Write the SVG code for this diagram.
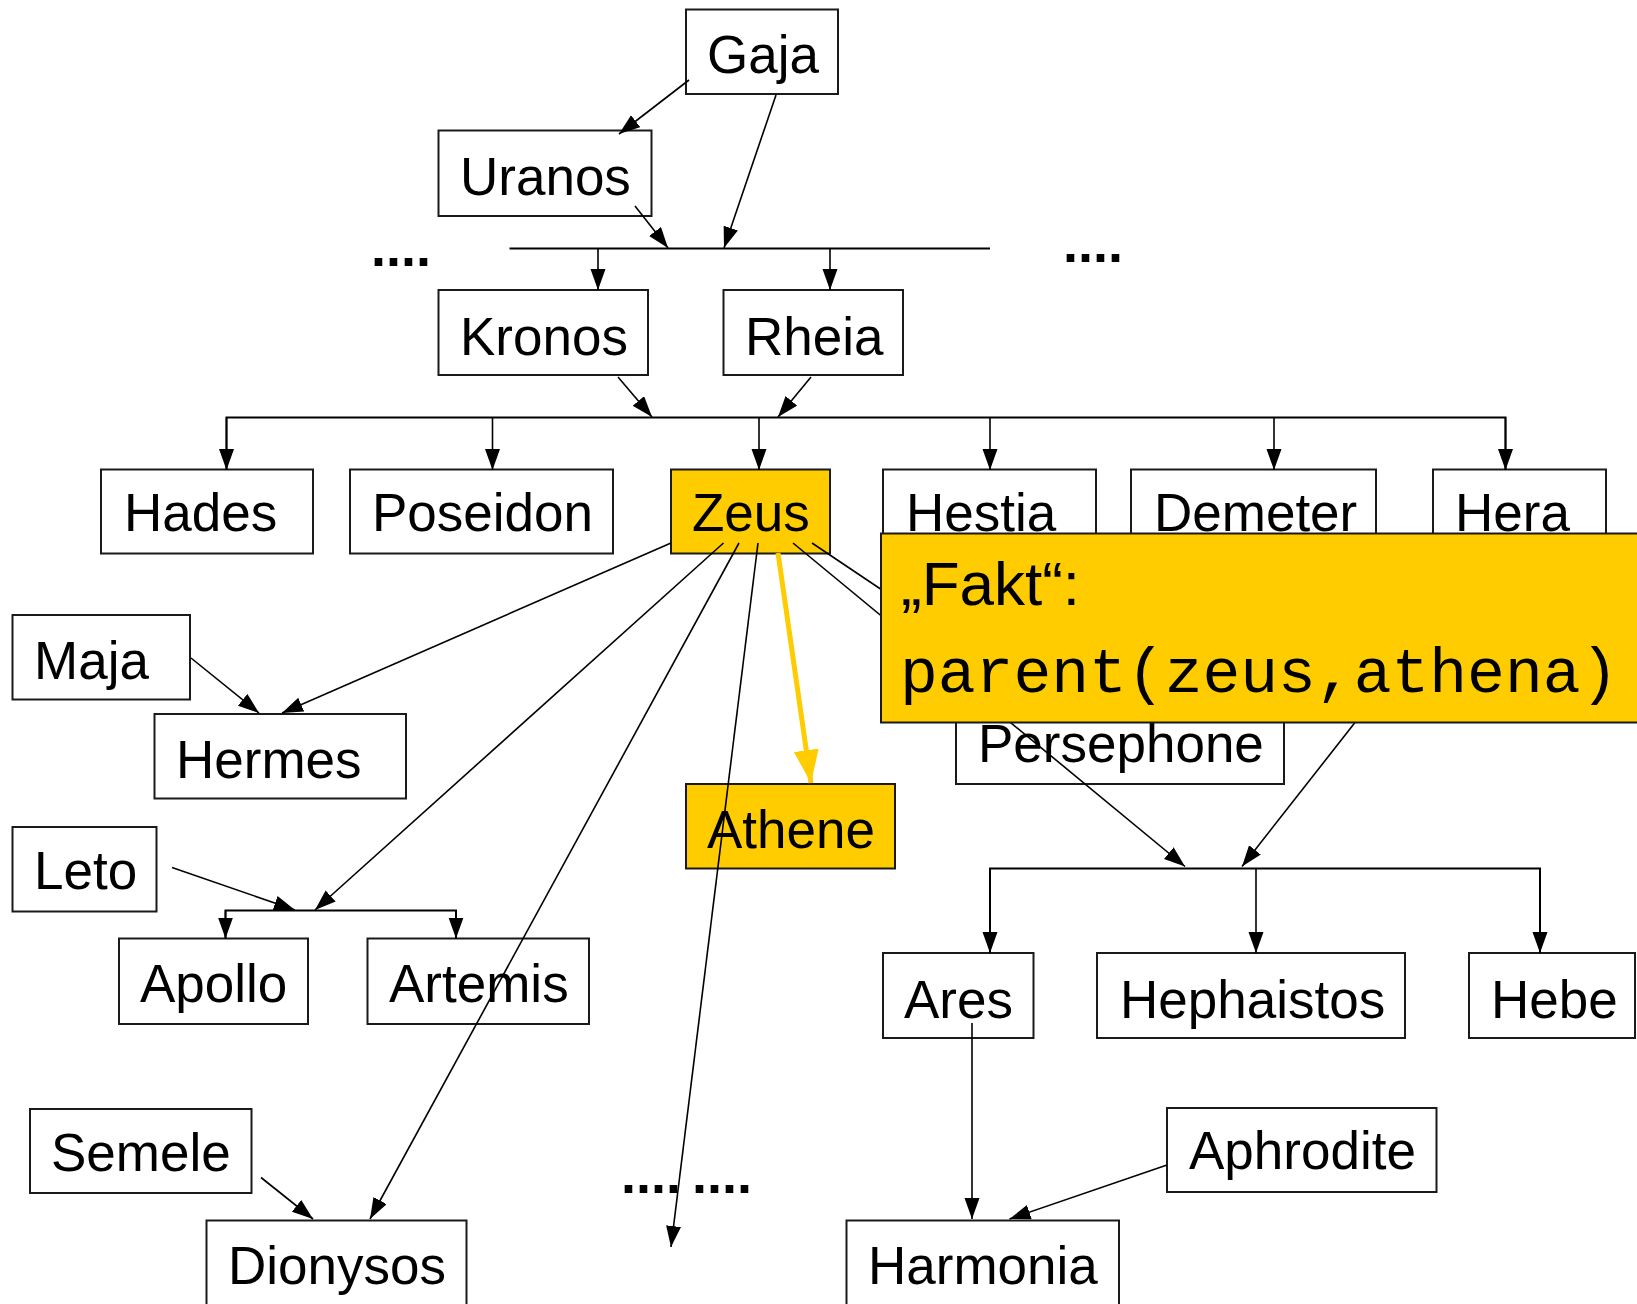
<svg xmlns="http://www.w3.org/2000/svg" width="1637" height="1304" viewBox="0 0 1637 1304">
  <defs>
    <style>
      .box { fill: #ffffff; stroke: #1a1a1a; stroke-width: 2; }
      .hl { fill: #ffcc00; stroke: #1a1a1a; stroke-width: 2; }
      .lbl { font-family: "Liberation Sans", Arial, sans-serif; font-size: 53px; fill: #000000; }
      .mono { font-family: "Liberation Mono", "Courier New", monospace; font-size: 63px; fill: #000000; }
      .edge { fill: none; stroke: #000000; stroke-width: 1.6; }
      .bar { fill: none; stroke: #000000; stroke-width: 2; }
      .fact { fill: none; stroke: #ffcc00; stroke-width: 5; }
      .dots { font-family: "Liberation Sans", Arial, sans-serif; font-size: 54px; font-weight: bold; fill: #000000; }
    </style>
    <marker id="arrow" markerUnits="userSpaceOnUse" markerWidth="22" markerHeight="16" refX="21" refY="7.5" orient="auto">
      <path d="M0,0 L21,7.5 L0,15 z" fill="#000000"/>
    </marker>
    <marker id="arrowY" markerUnits="userSpaceOnUse" markerWidth="34" markerHeight="26" refX="33" refY="12.5" orient="auto">
      <path d="M0,0 L33,12.5 L0,25 z" fill="#ffcc00"/>
    </marker>
  </defs>

  <!-- persons -->
  <g id="gaja"><rect class="box" x="686" y="9.5" width="152" height="84.5"/><text class="lbl" x="707" y="73">Gaja</text></g>
  <g id="uranos"><rect class="box" x="438.5" y="130.5" width="213" height="85.5"/><text class="lbl" x="460" y="195">Uranos</text></g>
  <g id="kronos"><rect class="box" x="438.5" y="290" width="209.5" height="85"/><text class="lbl" x="460" y="355">Kronos</text></g>
  <g id="rheia"><rect class="box" x="723.5" y="290" width="179.5" height="85"/><text class="lbl" x="745" y="355">Rheia</text></g>

  <g id="hades"><rect class="box" x="101" y="469.5" width="212" height="84"/><text class="lbl" x="124" y="531">Hades</text></g>
  <g id="poseidon"><rect class="box" x="350" y="469.5" width="263" height="84"/><text class="lbl" x="372" y="531">Poseidon</text></g>
  <g id="zeus"><rect class="hl" x="671" y="469.5" width="159" height="84"/><text class="lbl" x="692" y="531">Zeus</text></g>
  <g id="hestia"><rect class="box" x="883" y="469.5" width="213" height="84"/><text class="lbl" x="906" y="531">Hestia</text></g>
  <g id="demeter"><rect class="box" x="1131" y="469.5" width="245" height="84"/><text class="lbl" x="1154" y="531">Demeter</text></g>
  <g id="hera"><rect class="box" x="1433" y="469.5" width="173" height="84"/><text class="lbl" x="1455" y="531">Hera</text></g>

  <g id="maja"><rect class="box" x="12.5" y="615" width="177.5" height="84.5"/><text class="lbl" x="34" y="679">Maja</text></g>
  <g id="hermes"><rect class="box" x="154.5" y="714" width="251.5" height="84.5"/><text class="lbl" x="176" y="778">Hermes</text></g>
  <g id="persephone"><rect class="box" x="956" y="699.5" width="328" height="84.5"/><text class="lbl" x="978" y="762">Persephone</text></g>
  <g id="athene"><rect class="hl" x="686" y="784" width="209" height="84.5"/><text class="lbl" x="707" y="848">Athene</text></g>

  <g id="leto"><rect class="box" x="12.5" y="827" width="144" height="84.5"/><text class="lbl" x="34" y="889">Leto</text></g>
  <g id="apollo"><rect class="box" x="119" y="938.5" width="189" height="85.5"/><text class="lbl" x="140" y="1002">Apollo</text></g>
  <g id="artemis"><rect class="box" x="367.5" y="938.5" width="221.5" height="85.5"/><text class="lbl" x="389" y="1002">Artemis</text></g>

  <g id="ares"><rect class="box" x="883" y="953" width="150.5" height="85"/><text class="lbl" x="904" y="1018">Ares</text></g>
  <g id="hephaistos"><rect class="box" x="1097" y="953" width="308" height="85"/><text class="lbl" x="1120" y="1018">Hephaistos</text></g>
  <g id="hebe"><rect class="box" x="1469" y="953" width="166" height="85"/><text class="lbl" x="1491" y="1018">Hebe</text></g>

  <g id="semele"><rect class="box" x="30" y="1109" width="221.5" height="84"/><text class="lbl" x="51" y="1171">Semele</text></g>
  <g id="aphrodite"><rect class="box" x="1167" y="1108" width="269.5" height="84"/><text class="lbl" x="1189" y="1169">Aphrodite</text></g>
  <g id="dionysos"><rect class="box" x="206.5" y="1220.5" width="260" height="100"/><text class="lbl" x="228" y="1284">Dionysos</text></g>
  <g id="harmonia"><rect class="box" x="846.5" y="1220.5" width="272.5" height="100"/><text class="lbl" x="868" y="1284">Harmonia</text></g>

  <!-- elided branches -->
  <g id="ellipses">
    <text class="dots" x="371" y="266">....</text>
    <text class="dots" x="1063" y="262">....</text>
    <text class="dots" x="621" y="1193">....</text>
    <text class="dots" x="692" y="1193">....</text>
  </g>

  <!-- descent lines -->
  <g id="connectors">
    <line class="edge" x1="689" y1="80" x2="619" y2="134" marker-end="url(#arrow)"/>
    <line class="edge" x1="776" y1="95" x2="724" y2="248" marker-end="url(#arrow)"/>
    <line class="edge" x1="635" y1="206" x2="668" y2="248" marker-end="url(#arrow)"/>
    <line class="bar" x1="509.5" y1="248.5" x2="990" y2="248.5"/>
    <line class="edge" x1="598" y1="248.5" x2="598" y2="290" marker-end="url(#arrow)"/>
    <line class="edge" x1="830" y1="248.5" x2="830" y2="290" marker-end="url(#arrow)"/>

    <line class="edge" x1="618" y1="377" x2="652" y2="417" marker-end="url(#arrow)"/>
    <line class="edge" x1="811" y1="377" x2="778" y2="417" marker-end="url(#arrow)"/>
    <polyline class="bar" points="226.5,470 226.5,417.5 1505.5,417.5 1505.5,470"/>
    <line class="edge" x1="226.5" y1="417.5" x2="226.5" y2="470" marker-end="url(#arrow)"/>
    <line class="edge" x1="492.5" y1="417.5" x2="492.5" y2="470" marker-end="url(#arrow)"/>
    <line class="edge" x1="759" y1="417.5" x2="759" y2="470" marker-end="url(#arrow)"/>
    <line class="edge" x1="990" y1="417.5" x2="990" y2="470" marker-end="url(#arrow)"/>
    <line class="edge" x1="1274" y1="417.5" x2="1274" y2="470" marker-end="url(#arrow)"/>
    <line class="edge" x1="1505.5" y1="417.5" x2="1505.5" y2="470" marker-end="url(#arrow)"/>

    <line class="edge" x1="191" y1="658" x2="259" y2="713" marker-end="url(#arrow)"/>
    <line class="edge" x1="671" y1="543" x2="282" y2="713" marker-end="url(#arrow)"/>

    <line class="edge" x1="172" y1="867.5" x2="295" y2="910" marker-end="url(#arrow)"/>
    <line class="edge" x1="723.5" y1="543" x2="315" y2="910" marker-end="url(#arrow)"/>
    <polyline class="bar" points="225.5,938 225.5,910.5 456,910.5 456,938"/>
    <line class="edge" x1="225.5" y1="910.5" x2="225.5" y2="938.5" marker-end="url(#arrow)"/>
    <line class="edge" x1="456" y1="910.5" x2="456" y2="938.5" marker-end="url(#arrow)"/>

    <line class="edge" x1="739" y1="543" x2="370" y2="1219" marker-end="url(#arrow)"/>
    <line class="edge" x1="261" y1="1177.5" x2="313" y2="1219" marker-end="url(#arrow)"/>
    <line class="edge" x1="758" y1="543" x2="671" y2="1247" marker-end="url(#arrow)"/>

    <line class="edge" x1="812" y1="543" x2="1031" y2="690" marker-end="url(#arrow)"/>
    <line class="edge" x1="793" y1="543" x2="1185" y2="866.5" marker-end="url(#arrow)"/>
    <line class="edge" x1="1488" y1="553" x2="1242" y2="866.5" marker-end="url(#arrow)"/>
    <polyline class="bar" points="990,952 990,868.5 1540,868.5 1540,952"/>
    <line class="edge" x1="990" y1="868.5" x2="990" y2="953" marker-end="url(#arrow)"/>
    <line class="edge" x1="1256" y1="868.5" x2="1256" y2="953" marker-end="url(#arrow)"/>
    <line class="edge" x1="1540" y1="868.5" x2="1540" y2="953" marker-end="url(#arrow)"/>

    <line class="edge" x1="972" y1="1023" x2="972" y2="1219" marker-end="url(#arrow)"/>
    <line class="edge" x1="1167" y1="1165" x2="1009.5" y2="1219" marker-end="url(#arrow)"/>

    <line class="fact" x1="778" y1="553" x2="811" y2="783" marker-end="url(#arrowY)"/>
  </g>

  <!-- Prolog fact callout -->
  <g id="fakt">
    <rect class="hl" x="881" y="533.5" width="770" height="189"/>
    <text class="lbl" x="901" y="605" style="font-size:62px">„Fakt“:</text>
    <text class="mono" x="900" y="692">parent(zeus,athena)</text>
  </g>
</svg>
